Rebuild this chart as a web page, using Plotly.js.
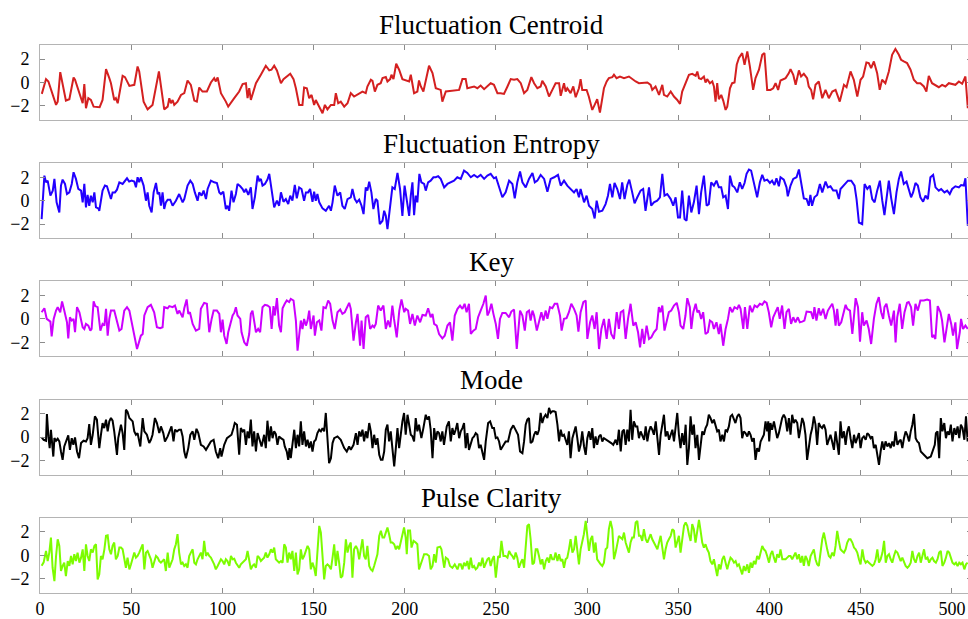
<!DOCTYPE html>
<html>
<head>
<meta charset="utf-8">
<script src="https://cdn.plot.ly/plotly-3.0.1.min.js"></script>
<style>
html,body{margin:0;padding:0;overflow:hidden;background:#fff;}
#chart{width:972px;height:619px;}
</style>
</head>
<body>
<div id="chart"></div>
<script>
// Panel titles
const panelTitles = ["Fluctuation Centroid", "Fluctuation Entropy", "Key", "Mode", "Pulse Clarity"];
const lineColors = ["#d42020", "#2200ff", "#cc00ff", "#000000", "#7cfc00"];
const xTickVals = [0, 50, 100, 150, 200, 250, 300, 350, 400, 450, 500];
const yTickVals = [-2, 0, 2];

// [frame index, value] pairs
const centroid = [[1,-0.97],[3.3,0.29],[4.6,0.09],[8.8,-1.91],[9.7,-1.63],[11.1,0.89],[14.2,-1.54],[16.1,-1.43],[18.4,0.43],[19.2,0.23],[22.5,-1.34],[23.4,-1.77],[24.3,-0.14],[25.2,-2.2],[26.5,-1.34],[27.9,-1.49],[29.4,-2.06],[32.7,-2.11],[34.3,-1.49],[36.2,1.14],[38,0.37],[38.9,-0.06],[40.7,-1.49],[41.6,-1.34],[42.6,-1.77],[45.3,0.57],[46.6,0.46],[49,-0.29],[51.7,-0.2],[53.5,1.37],[54.4,0.94],[56.8,-1.63],[59,-2.29],[61.7,-1.91],[65.2,0.94],[68.1,-2.29],[70,-2.06],[70.9,-1.34],[71.8,-1.77],[72.7,-1.49],[73.6,-1.91],[75.4,-1.63],[77.3,-1.06],[79.1,-0.91],[80.9,0.17],[82.7,-0.2],[84.6,-1.54],[86,-1.63],[87.3,-0.43],[89.1,-0.77],[91.5,-0.77],[93.7,0],[95.5,0.37],[96.4,0.09],[97.4,0.43],[99.2,-0.91],[101.9,-1.63],[103.2,-2.06],[106.5,-1.34],[109.2,-0.77],[111.1,-0.14],[112.9,-0.06],[113.8,-1.34],[114.7,-0.49],[115.6,-1.49],[118.4,-0.06],[121.1,0.66],[123.8,1.43],[125.7,1.03],[126.9,1.09],[128.4,1.43],[129.9,1.03],[132.1,-0.06],[133.5,0.29],[137.2,0.74],[139,0.29],[140.3,-0.49],[142.1,-1.91],[143.9,-1.91],[144.8,-0.43],[146.3,-0.49],[147.6,-1.34],[148.9,-1.06],[150.3,-1.91],[151.2,-1.49],[153.1,-2.06],[154.9,-2.63],[156.2,-1.91],[157.6,-2.29],[159.5,-1.91],[161.3,-1.91],[162.2,-0.91],[163.5,-1.77],[164.9,-1.63],[166.8,-2.06],[168.6,-1.77],[170.4,-0.91],[172.2,-1.2],[175,-0.91],[176.8,-0.77],[178.6,-0.91],[179.5,-0.34],[181.4,0.23],[182.3,0.14],[183.6,-0.77],[185,-0.2],[186.8,-0.06],[187.8,0.37],[189.6,0.46],[190.5,0.09],[192,0.29],[192.7,0.66],[193.8,0.29],[195.3,1.6],[196.9,1.09],[198.7,0.29],[202.4,0.09],[203.3,0.66],[205.1,-0.91],[206.9,-0.77],[207.8,0.17],[208.8,-0.34],[210.2,-0.77],[213.3,1.43],[215.2,0.8],[217,-0.49],[219.7,-0.63],[220.6,-1.63],[222.5,-0.77],[229.8,-0.63],[231.6,0.29],[233.4,0.29],[234.3,-0.49],[238,-0.34],[239.8,-0.49],[241.6,-0.26],[243.5,-0.57],[245.3,-0.34],[247.1,-0.06],[248.9,-0.2],[250.8,-0.91],[252.6,-0.91],[254.4,-0.97],[256.3,-0.34],[258.1,0.29],[259.9,0.23],[261.7,0.29],[263.6,-0.06],[265.4,-0.91],[267.2,-0.63],[269.4,0.46],[270.9,-0.06],[272.7,-0.49],[274.5,-0.34],[275.4,0.14],[277.3,-0.34],[279.1,-1.2],[280.9,-0.63],[282.7,-0.06],[284.6,-0.06],[285.5,-1.14],[287.3,-0.06],[288.2,-0.77],[289.1,-0.49],[290.9,-0.91],[292.4,-0.34],[293.7,-1.26],[295.5,-0.49],[296.4,0.29],[297.3,-0.63],[299.7,-0.63],[300.9,-1.2],[302.8,-2.34],[304.1,-1.91],[305.5,-1.43],[307,-2.57],[309.2,-0.49],[310.7,0.09],[311.9,0.37],[313.8,0.46],[314.7,0.66],[316.1,0.37],[318,0.51],[320.2,0.37],[322.9,0.51],[326.6,0.09],[328.4,-0.06],[333,0],[334.8,-0.2],[335.7,-0.63],[337.5,-0.34],[339.4,-1.06],[341.2,-0.2],[342.1,-1.06],[343.9,-1.2],[345.8,-0.77],[347.6,-1.2],[349.4,-1.49],[350.9,-1.83],[352.1,-0.77],[354,-0.06],[355.8,0.66],[357.6,0.74],[359.5,0.57],[360.4,0.94],[361.3,0.37],[362.5,0.29],[364,0.51],[364.9,0],[365.8,0.29],[367.3,-0.06],[368.6,0.09],[369.5,-0.34],[370.4,-1.63],[371.3,-0.06],[372.2,-1.43],[373.5,-1.06],[374.6,-1.54],[375.9,-2.34],[376.8,-2.06],[378.3,-0.49],[379.5,-0.06],[380.8,0],[382,1.51],[383.2,2.09],[385,2.51],[386.3,1.51],[387.8,2.66],[389.2,1.37],[391,-0.63],[392.3,0.37],[394.2,1.09],[396,2.37],[397.2,2.51],[398.7,-0.63],[400.5,-0.63],[402,-0.49],[403.3,-0.06],[404.7,-0.63],[406,0.17],[408.8,0.37],[410.6,0.8],[411.5,1.14],[413,0.66],[414.3,-0.2],[416.1,1.03],[417.3,0.51],[418.8,0.74],[420.6,0.37],[421.5,-0.34],[422.8,-0.63],[423.9,-1.43],[425.2,-0.2],[427,0.09],[428.9,-1.34],[430.7,-0.63],[432.5,-1.34],[434.4,-0.77],[436.2,-0.63],[438.5,-1.63],[440.8,-0.2],[442.2,-0.4],[444.4,0.94],[446.2,0.23],[448.1,-1.2],[449.9,0.23],[451.3,0.51],[453.1,1.71],[454.4,1.66],[455.7,1.23],[457.2,1.8],[459,0.8],[460.4,-0.63],[461.7,0.23],[463.5,-0.06],[465.4,0.94],[467.2,2.37],[469,2.86],[470.9,2.37],[472.1,1.94],[473.6,1.8],[475.4,1.66],[477.3,1.09],[479.1,0.23],[480.9,-0.06],[482.7,-0.06],[484.6,-0.34],[486,-0.77],[487.3,0.57],[489.1,-0.06],[492.8,-0.4],[494.6,-0.2],[496.4,-0.34],[498.3,-0.06],[501.9,-0.2],[503.8,0.09],[505.6,-0.11],[507.4,0.51],[508.7,-2.2]];

const entropy = [[0.9,-1.57],[2.4,2.14],[3.3,1.57],[4.2,1.71],[5.7,0.43],[7,0.86],[7.9,1.86],[9.1,-0.14],[10.6,-1],[11.5,1.29],[12.4,1.8],[13.7,1.43],[14.8,0.57],[16.1,0.71],[17.4,1.43],[18.4,2.43],[19.7,1.86],[21,1],[22.5,0.86],[23.4,-0.14],[24.3,1.43],[25.2,-0.57],[26.1,0.49],[27,-0.43],[27.9,0.43],[28.9,-0.14],[29.8,0.71],[30.7,-0.57],[32,-0.66],[32.5,-0.86],[34.3,0.86],[35.6,1.29],[36.7,1.23],[38,0.57],[38.9,0.14],[39.8,0.71],[41.1,0.71],[42.2,0.94],[43.5,1.57],[45.3,1.43],[46.6,1.71],[47.7,1.91],[48.9,1.63],[50.2,1.71],[51.7,1.63],[52.6,1.14],[53.5,2],[54.4,1.57],[55.3,2],[56.8,1.29],[58.1,0],[59,0.71],[59.9,-0.43],[61.2,-1],[62.3,0.71],[63.6,1.51],[64.5,0.57],[65.4,0.71],[66.3,-0.43],[67.2,0.71],[68.1,-0.71],[69,-0.14],[70,0.09],[71.4,0.09],[72.7,-0.43],[74.5,0],[76.3,0.57],[78.2,-0.14],[79.1,0.14],[80.9,1.29],[82.4,1.71],[83.7,1.43],[84.9,0.71],[86.4,0],[87.3,0.71],[88.6,0.43],[89.7,0.86],[91,0.14],[91.9,1],[93.7,1.71],[95.5,1.57],[97,1.51],[98.3,0.71],[99.2,0.57],[100.5,0.77],[101.9,-0.71],[102.8,-0.43],[103.7,-0.86],[105,0.86],[106.1,-0.14],[107.4,0.57],[108.3,1.43],[109.8,1.23],[111.1,1],[112,0.71],[112.9,1],[114.2,0.49],[115.6,1.14],[116.5,-0.71],[117.8,0.29],[119.3,2.14],[120.2,1.71],[121.1,1.86],[122,1.29],[123.3,1.43],[124.7,1.8],[125.7,2.29],[126.6,1.34],[127.5,0.49],[128.4,-0.57],[129.9,0],[131.1,-0.43],[132.1,0.71],[133.5,-0.09],[134.8,0.14],[136.1,-0.29],[137.2,0.43],[138.4,0],[139.7,1.34],[140.8,0.2],[142.1,1.14],[143.4,1],[144.8,0],[145.8,0.71],[147,0.71],[148.1,1],[149.4,-0.09],[150.3,0.77],[151.2,0],[152.1,0.57],[153.1,-0.14],[154.9,-0.66],[156.7,-0.86],[158.5,-0.43],[159.5,-0.86],[160.4,-0.14],[161.6,1.29],[163.1,0.43],[164.6,0.71],[165.8,-0.43],[167.1,-0.71],[168.6,0.14],[170.4,0.29],[171.3,1],[172.6,0.14],[173.7,-0.14],[175,0.09],[176.3,-0.43],[177.4,-1.14],[178.6,1.14],[179.5,0.86],[180.5,1.63],[181.7,0.71],[182.8,-0.71],[184.1,0.14],[185,0],[186.3,-2],[187.8,-1.71],[188.7,-0.86],[189.6,-1.29],[190.5,-2.43],[192,-0.43],[193.2,1.14],[194.5,1],[196,2.37],[197.4,1],[198.7,-1.29],[199.9,1.29],[201.1,-0.14],[202.4,-1.29],[203.3,0.43],[204.2,1.57],[205.1,-1.23],[206,0.43],[206.9,-0.14],[208,2.29],[209.1,1.57],[210.6,1.43],[211.5,0.86],[212.8,1.57],[214.2,1.71],[215.7,2],[217,2],[218.3,2.09],[219.7,1.86],[221.6,1.14],[223.4,1.43],[225.2,1.57],[227,1.71],[228.8,2],[230.7,1.86],[232.5,2.57],[234.3,2.37],[236.2,2],[238,2.2],[239.8,2],[241.6,2.2],[243.5,1.86],[245.3,2.14],[247.1,2.29],[248.9,1.91],[250,2],[251.9,1.14],[253.5,0.29],[255.3,0.71],[257.2,1.71],[259,1.43],[260.3,0.2],[261.7,1.57],[263.2,2.49],[264.5,1.57],[266.3,1.14],[268.1,1.86],[270,2.37],[271.3,1.57],[272.7,1.71],[274.5,2.2],[276.4,1.86],[278.2,0.77],[280,1.86],[281.9,2],[284,2.2],[285.5,1.29],[287.3,1.71],[289.1,1.29],[290.9,1],[292.8,0.71],[294.2,1],[295.5,0.29],[296.4,1],[298.3,-0.14],[299.7,0.43],[301,-0.43],[302.8,-0.71],[304.1,-1.51],[305.2,0],[306.5,-0.94],[308.3,-0.86],[310.1,-0.29],[311.4,0.43],[312.5,1.43],[313.8,0.29],[315,1.51],[316.5,1],[318,0.14],[319.2,1.57],[320.5,0.14],[322,1.34],[323.1,1.8],[324.7,0.71],[326,-0.23],[327.5,0.29],[329.3,0.86],[330.7,1],[332,-0.86],[333.9,1.14],[335.1,-0.43],[336.6,-0.14],[338.4,0],[339.9,0.29],[341.2,2.29],[342.4,0.43],[343.9,0.57],[345.8,0.14],[347.2,-0.43],[348.5,0.29],[349.8,-1.43],[350.9,-1.43],[352.1,0.86],[353.4,-1.57],[354.5,-1.71],[355.8,0.43],[357.1,-1],[358.5,-0.14],[360,1.29],[361.3,-1.14],[362.5,0.71],[364,2.14],[365.5,-0.43],[366.7,-0.29],[368,1.57],[369.5,1.29],[370.9,1.71],[372.2,1.14],[373.5,1.14],[374.6,0.29],[375.9,0.43],[377.2,-0.71],[378.3,2.14],[379.6,1.29],[380.8,1.14],[382.3,0.71],[383.7,1.57],[385,1],[386.3,1.51],[387.4,2.29],[388.7,2.66],[389.9,2.57],[391,1.71],[392.3,1],[393.2,0.29],[394.7,1.57],[396,2.2],[397.2,1.71],[398.7,1.8],[400.2,1.51],[401.4,1.71],[402.7,1.34],[403.8,1.91],[405.1,1.23],[406,2],[407.8,1.8],[409.3,1.14],[410,0.37],[411.5,1.29],[413,1.86],[414.8,2],[416.1,2.66],[417.4,1.57],[418.8,0.2],[420.3,0.14],[421.5,-0.43],[422.4,0.49],[423.3,-0.43],[424.6,0.29],[426.1,0.49],[427.6,1.43],[428.9,0.71],[430.7,1.63],[432,1.14],[433.4,1.23],[434.9,0.86],[436.7,0.86],[438,0.14],[438.9,1],[440.8,1.29],[443,1.71],[444.8,1.71],[446.6,1.29],[447.7,0.14],[449,-1.86],[450.8,-2],[452.1,1.43],[453.6,1],[455,1.29],[456.3,0.14],[457.6,-0.14],[459,0.86],[460.5,1.71],[461.8,0],[463,-1.23],[464.1,0.14],[465.4,1.71],[466.7,0.2],[468.2,-1.14],[469.6,0.71],[470.9,1.86],[472.1,2.49],[473.6,1.43],[475.1,1.63],[476.4,1],[477.6,0.29],[478.7,0.71],[480,1.51],[481.3,1.29],[482.7,0.29],[484.2,-0.09],[485.5,0.43],[486.8,0.14],[488.2,2],[489.7,2.2],[491,1.14],[492.8,0.86],[494.1,1],[495.9,0.71],[497.4,0.86],[498.8,0.57],[500.1,1],[501.9,1.23],[503.8,1.14],[505,1.34],[506.5,1.29],[507.4,1.91],[508.7,-2.14]];

const key = [[0.9,0.57],[2.4,0.91],[3.7,0],[4.6,-0.14],[5.7,-0.23],[6.4,-1.49],[7.5,0],[8.8,0.71],[9.7,1],[11.1,0.57],[12.1,1.49],[13.3,0.71],[14.8,-0.29],[15.5,-1.66],[16.4,0.14],[17.4,-0.14],[18.4,0],[19.2,-1.14],[20.3,1],[21.6,0.57],[22.5,0],[23.4,-0.71],[24.3,-0.86],[25.2,-0.43],[26.5,-0.57],[27.6,-1],[28.3,-0.86],[29.4,1.49],[30.3,1.09],[31.6,1],[33.1,-1],[34.3,-0.43],[35.3,-0.57],[36.2,0.86],[37.1,-1.43],[38,0],[38.9,0.71],[40.7,0.71],[43.5,-1],[44.7,-0.86],[46.2,0.71],[47.7,1],[49,0.71],[50.8,-0.57],[53.2,-2.57],[55.3,-1.43],[56.3,-1.29],[57.2,0.29],[59,1],[60.8,1.2],[62.6,0.57],[64.1,-0.71],[65.9,-0.8],[67.2,-0.71],[68.1,1],[70,0.91],[70.9,1.09],[72.7,1],[74,1.14],[75.4,0.43],[76.3,0.71],[78.2,0.14],[79.1,0.91],[80.4,1.66],[81.3,0.43],[82.2,0.57],[83.7,-0.43],[85.5,-1],[87.3,-0.86],[88.2,0.86],[90,1.37],[91.5,1.29],[92.8,-1.14],[94.1,0],[95.2,0.71],[97,0.71],[98.3,0.43],[99.2,-1.14],[100.1,-0.06],[101,-1.43],[102.3,-2.14],[103.2,-1.14],[104.3,-0.57],[105.6,0.29],[106.5,0.51],[107.4,1],[108.3,0.29],[109.8,0],[110.5,-1.14],[112,-2],[113.4,-2.29],[114.7,-1.29],[115.6,0.43],[116.5,0.71],[118.4,-1.14],[119.6,-0.86],[120.7,-1.14],[122,1],[123.3,1.2],[124.7,1.14],[126,1],[127,-0.86],[128,1.09],[128.8,0.29],[129.9,1.77],[131.1,-0.57],[132.1,-1.14],[133,0.91],[134.2,1.29],[135.3,1.57],[136.6,1.43],[137.5,1.71],[139,1.57],[140.3,-0.14],[141.2,-2.71],[142.1,-1.14],[143,-0.14],[143.9,-0.86],[144.8,0],[145.8,-0.57],[146.7,-0.14],[147.6,0.71],[148.5,-0.86],[150,0.29],[150.7,-1.43],[151.8,-0.29],[153.1,-0.14],[154.3,-1],[155.4,1],[156.7,0.91],[158,1.57],[159.1,1.29],[160.4,-0.14],[161.6,-0.86],[163.1,0.57],[164.6,0.8],[165.8,0.43],[167.1,0.57],[168.6,1],[169.5,1.37],[170.4,0.86],[171.9,-1.86],[173.2,-0.29],[174.1,0.43],[175.5,-2.29],[176.3,-0.14],[177.4,-2.57],[178.6,0.14],[179.9,0.34],[181,-0.86],[182.3,-0.57],[183.2,-0.71],[184.1,-0.43],[185.4,1.14],[186.8,0.71],[188.3,1.14],[189.6,-0.86],[190.8,-0.14],[192,-0.71],[193.2,1.14],[194.1,0],[195.6,-1.57],[197,0.71],[198.2,1.66],[199.7,0.57],[200.5,0.86],[201.8,0.71],[202.9,-0.43],[204.2,0.43],[205.5,-0.57],[206.9,0.29],[208.4,-0.29],[209.7,0.34],[211.5,0.29],[212.8,0.91],[214.2,0.14],[215.2,0.43],[216.1,-0.43],[217.5,-0.57],[218.8,-1.29],[220.6,-1.66],[221.9,-1.43],[223.4,-0.57],[224.8,-0.29],[226.1,-1.86],[227.4,0.29],[228.9,0.86],[230.3,1.14],[231.6,0.86],[232.8,1.29],[233.9,0.57],[235.2,1.29],[236.2,-1.29],[237.6,-1],[238.9,-0.86],[240.2,0.14],[241.6,0.71],[243.1,1.29],[244.4,2],[245.3,0.29],[246.2,0.57],[247.5,1.29],[248.6,0.43],[249.9,-0.43],[251.1,-1.71],[252.2,0],[253.5,0.51],[255.3,0.51],[257.2,0.14],[258.4,0.63],[259.9,0.8],[261.4,-2.57],[263.2,0.71],[264.5,0.29],[265.8,-1],[266.9,0.57],[268.1,0.71],[269,-0.14],[270,0.71],[270.9,0.29],[272.4,-1],[273.6,-0.29],[274.9,0.57],[276,-0.14],[277.3,0.71],[278.2,0],[279.6,1],[280.9,0.91],[282.2,1.29],[283.6,1.29],[285.1,0.29],[286,-1],[287.3,0],[288.7,0.06],[290,0.57],[291.3,1.29],[292.8,0.86],[294.2,0.29],[295.2,-1.09],[296.4,0.57],[297.9,1.43],[299.2,1.57],[300.1,-1.71],[301.6,-0.29],[302.8,0.29],[304.1,-0.86],[305.2,0.57],[306.5,-2.57],[307.8,-0.86],[309.2,0],[310.7,-1.71],[311.9,0],[313.2,-1.29],[314.7,-1.71],[316.2,0.57],[317.4,-0.86],[318.4,0.57],[319.8,0.71],[321.1,-1.71],[322.4,0],[323.8,1.29],[325.3,-0.57],[326.6,-0.29],[327.9,-1.14],[329,-2.43],[330.2,-0.86],[331.2,-2.14],[332.6,-0.57],[333.9,-1.71],[335.2,-1.57],[336.6,-1.14],[338.1,-0.86],[339.3,1],[340.2,0.57],[341.2,1.14],[342.4,-1],[343.5,-0.29],[344.8,0.57],[346.1,0.71],[347.6,1.14],[349.1,1.37],[350.3,0.57],[351.2,-0.57],[352.7,-0.86],[353.9,0.29],[354.9,1.77],[356.3,1],[357.1,-0.86],[358.2,0.57],[359.5,1.29],[360.4,0.57],[361.3,0.71],[362.5,0],[363.6,0.57],[364.9,-1.29],[366.2,-1.14],[367.3,-0.14],[368.6,-0.29],[369.5,-0.86],[370.9,-0.29],[372.2,-1.29],[373.1,-0.43],[374.6,-2.29],[375.9,-0.86],[377.2,0],[378.3,1],[379.6,0.57],[380.8,1],[382.3,0.86],[383.2,1.2],[384.1,0.86],[385.6,-0.86],[386.5,1],[387.8,-0.86],[389.2,1.14],[390.5,0.57],[391.8,1.14],[393.2,1],[394.7,1.29],[396,1.2],[397.2,1.49],[398.4,1.37],[399.6,0.57],[400.9,-0.71],[402,0.14],[403.3,0.57],[404.5,1],[405.6,0],[406.9,1.14],[408.2,-0.86],[409.3,0.57],[410.6,0.86],[411.8,-0.43],[413,0.14],[414.2,-0.29],[415.5,0.14],[416.6,-0.29],[417.9,-0.23],[419.1,-0.14],[420.3,0.63],[421.5,0.63],[422.8,0.57],[423.9,0],[424.6,1],[425.7,-0.14],[427,0.91],[428,0.29],[429.4,0.86],[430.7,0],[432,0.71],[433.1,1],[434.4,1.29],[435.3,0.71],[436.2,-0.57],[437.1,0.86],[438,-0.57],[439.3,-0.29],[440.4,0.29],[441.7,1.2],[442.6,0.86],[444.1,0.71],[445.4,-1.29],[446.3,0.29],[447.2,1.77],[448.5,1],[449.6,-1.94],[450.8,0.57],[451.7,-0.57],[453.2,-0.14],[454.4,-0.86],[455.7,-2.14],[457.2,0],[458.6,1.29],[459.9,1.86],[461.2,0.57],[462.3,0],[463,1],[464.1,1.29],[465.4,0.29],[466.7,-0.57],[468.2,0.71],[469.1,-2],[470,0.14],[471.4,1.29],[472.7,-0.86],[474,0.57],[475.4,1.37],[476.3,1.43],[477.6,1],[478.7,-0.57],[480,1.29],[481.3,0.71],[482.7,1.57],[484.6,1.57],[486.4,1.66],[487.9,1.57],[489.1,-1.57],[490,-1.43],[490.9,-1.71],[492.2,1.09],[493.7,0.57],[494.6,-0.14],[495.9,-2],[497.4,-0.43],[498.3,0.43],[499.6,-0.43],[500.6,-1.43],[501.9,-0.29],[502.8,-2.57],[504.3,-1.14],[505,0],[506.1,-0.86],[507.4,-0.57],[508.7,-0.86]];

const mode = [[0.9,-0.03],[2,-0.23],[3.3,-0.31],[3.8,1.97],[4.6,0.06],[5.3,-0.94],[6,0.63],[6.6,-0.37],[7.3,-1.66],[7.9,-0.09],[8.8,-0.31],[9.7,-0.14],[10.6,-0.37],[11.5,-1.23],[12.4,-1.94],[13.3,-0.8],[14.2,-0.37],[15.5,0.14],[16.4,-1.09],[17.4,-0.09],[18.3,-0.66],[19.2,-0.03],[20.3,-1.23],[21.4,-1.8],[22.5,-0.51],[23.9,-0.31],[25.2,-0.37],[26.1,-0.09],[27,1.11],[27.9,-0.66],[28.9,0.2],[30.1,1.77],[31.2,1.49],[32.5,-0.94],[33.4,0.2],[34.3,1.2],[35.2,0.77],[36.2,1.49],[37.1,0.49],[38,1.34],[38.9,1.63],[39.8,1.4],[40.7,0.49],[42.2,-1.51],[42.9,-0.09],[43.7,0.63],[44.4,1.06],[45.3,0.34],[46.2,-1.09],[47.1,2.34],[48,2.14],[49,1.63],[49.9,1.49],[50.8,1.34],[51.7,0.49],[52.6,0.2],[53.5,0.34],[55,-0.8],[56.3,1.63],[57.2,0.49],[58.6,0.2],[59.9,-0.51],[60.8,-0.23],[61.7,0.2],[63,1.63],[64.1,1.2],[65.4,0.34],[66.3,0.91],[67.6,0.34],[68.5,-0.37],[70,0.06],[71.2,0.63],[72.1,0.91],[73.2,-0.37],[74,0.63],[75.1,0.49],[76.3,0.63],[77.3,0.63],[78.2,0.06],[79.1,-1.23],[80,-1.8],[81.3,-0.94],[82.4,0.2],[83.7,0.49],[84.6,-0.23],[85.8,0.71],[86.8,0.34],[88.2,-0.66],[89.7,-0.8],[91,-1.09],[92.2,-0.8],[93.7,-0.37],[95.2,-0.23],[96.4,-1.23],[97.7,-1.8],[98.8,-0.94],[99.5,-1.66],[101,-0.66],[102.5,-0.09],[103.7,0.06],[105,0.2],[106.1,0.77],[106.8,1.2],[108,1.06],[108.7,-0.51],[109.2,-1.51],[110.1,0.77],[111.1,0.49],[112,0.63],[112.9,-0.66],[113.8,0.49],[114.7,-0.09],[115.6,1.49],[116.5,-0.8],[117.4,0.49],[118.4,-1.23],[119.3,0.34],[120.2,-0.23],[121.5,-0.8],[122.9,0.2],[123.8,-0.94],[124.7,1.4],[125.7,-0.37],[126.6,0.91],[127.5,-0.09],[128.4,0.49],[129.3,0.26],[130.2,-0.66],[131.1,0.06],[132.1,-0.09],[133.5,-0.23],[134.2,-0.8],[135.3,-1.23],[136.1,-1.94],[136.8,-0.94],[137.5,-1.8],[138.4,-0.66],[139.4,0.63],[140.3,-0.94],[141.2,0.2],[142.1,-0.8],[143,1.34],[143.9,-0.66],[144.8,0.49],[145.8,-0.8],[146.7,-0.23],[147.6,-0.94],[148.5,-0.37],[149.4,-1.23],[150.3,-0.37],[151.2,-0.23],[152.1,0.34],[153.1,0.63],[154,0.49],[154.9,0.77],[155.8,0.49],[156.7,2.06],[157.6,0.2],[158.5,-2.23],[159.5,-1.8],[160.4,-0.51],[161.3,-0.09],[163.1,0.06],[164.9,-0.23],[166.8,-0.94],[168.2,-1.23],[169.5,-0.8],[170.4,-1.09],[171.9,-0.66],[173.2,0.34],[174.1,-0.66],[175,0.49],[175.9,0.06],[176.8,0.63],[177.7,-0.37],[178.6,0.49],[179.5,-0.09],[180.5,1.2],[181.4,0.49],[182.3,-0.94],[183.2,0.2],[184.1,-0.66],[185,-0.09],[186,-1.51],[186.9,-1.94],[187.8,-1.94],[188.7,-1.23],[189.6,0.63],[190.5,1.06],[191.4,-0.37],[192.3,0.49],[193.2,-0.94],[194.2,-2.51],[195.1,-0.94],[196,0.77],[196.9,-0.94],[197.8,0.34],[198.7,1.34],[199.6,2.06],[200.5,0.2],[201.5,1.91],[202.4,1.06],[203.3,0.2],[204.2,0.06],[205.1,-0.37],[206,1.63],[206.9,0.49],[207.8,1.06],[209.1,-0.09],[210.2,0.77],[211.5,1.91],[212.4,1.49],[213.3,1.77],[214.2,0.63],[215.2,-1.8],[216.1,0.77],[217,-0.23],[217.9,0.49],[218.8,0.34],[219.7,-0.37],[220.6,0.49],[221.5,-0.66],[223,0.91],[224.2,1.34],[225.2,-0.37],[226.1,0.77],[227,0.2],[227.9,0.63],[228.8,1.2],[229.8,-0.09],[230.7,0.49],[231.6,0.77],[232.5,1.2],[233.4,-0.94],[234.3,0.34],[235.2,-1.09],[236.2,-0.66],[237.1,-0.09],[238,0.06],[238.9,0.34],[239.8,0.2],[240.7,-0.94],[241.6,-0.66],[242.6,-1.23],[243.5,-1.94],[244.4,-0.37],[245.7,1.2],[246.8,1.34],[248,0.77],[248.9,0.77],[249.9,-0.09],[250.8,-0.03],[251.7,-0.37],[252.6,-1.09],[254.1,-0.66],[255.3,-0.37],[256.6,-0.37],[258.1,0.63],[259.5,1],[260.8,0.63],[262.1,0.2],[263.2,-1.23],[264.5,-1.37],[265.4,-0.37],[266.3,1.06],[267.2,1.49],[268.1,1.63],[269,-0.51],[270,-0.37],[270.9,0.2],[271.8,0.49],[272.7,0.2],[273.6,0.63],[274.5,2.06],[275.4,1.2],[276.3,1.69],[277.2,1.91],[278.2,1.63],[279.1,2.49],[280,2.06],[280.9,2.2],[281.8,2.2],[282.7,2.14],[283.7,1.06],[284.6,-0.37],[285.5,0.63],[286.4,0.06],[287.3,0.2],[288.2,-0.23],[289.1,-0.66],[290,0.49],[290.9,-1.8],[291.9,-0.09],[292.8,0.49],[293.7,0.91],[294.6,-0.09],[295.5,-1.23],[296.4,-0.66],[297.3,0.49],[298.3,-0.8],[299.2,-1.51],[300.1,-0.09],[301,0.49],[301.9,-0.23],[302.8,0.77],[303.7,-0.94],[304.6,0.06],[305.5,-0.66],[306.5,0.06],[307.4,0.2],[308.3,-0.37],[309.2,-0.09],[310.7,-0.23],[311.9,-0.37],[313.2,-0.51],[314.3,-0.66],[315.6,-0.23],[316.5,-0.66],[317.4,0.63],[318.4,-1.23],[319.3,0.49],[320.2,0.63],[321.1,-0.66],[322,0.63],[322.9,-0.37],[323.8,2.34],[324.7,-0.23],[325.6,1.34],[326.6,0.91],[327.5,0.91],[328.4,-0.09],[329.3,0.49],[330.2,0.2],[331.2,-0.23],[332.1,0.91],[333,-0.37],[333.9,0.49],[334.8,0.91],[335.7,0.63],[336.6,0.2],[337.6,1.34],[338.5,-0.37],[339.4,-1.51],[340.3,0.2],[341.2,1.2],[342.1,1.91],[343,0.06],[344,0.49],[344.9,-0.23],[345.8,0.2],[346.7,0.63],[347.6,-0.37],[348.5,1.2],[349.4,2.06],[350.3,0.2],[351.2,-0.94],[352.1,0.34],[353.1,-0.66],[354,1.06],[354.9,-2.37],[355.8,-0.94],[356.7,1.77],[357.6,0.2],[358.5,1.06],[359.4,-0.94],[360.4,0.2],[361.3,-1.94],[362.2,-0.94],[363.1,0.49],[364,0.2],[364.9,0.77],[365.8,1.06],[366.7,1.91],[367.6,1.63],[368.6,1.2],[369.5,1.49],[370.4,1.06],[371.3,0.49],[372.2,0.63],[373.1,-0.37],[374.1,0.2],[375,-0.37],[375.9,0.63],[376.8,0.49],[377.7,0.91],[378.6,1.77],[379.5,1.91],[380.4,1.49],[381.3,1.2],[382.3,1.77],[383.2,1.97],[384.1,1.63],[385,-0.09],[385.9,0.49],[386.8,0.34],[387.8,0.06],[388.7,0.49],[389.6,0.2],[390.5,-0.37],[391.4,-0.09],[392.3,-1.94],[393.2,-0.94],[394.2,-1.23],[395.1,-0.37],[396,-0.09],[396.9,0.2],[397.8,1.34],[398.7,0.49],[399.3,1.34],[399.8,-0.37],[400.5,1.2],[401.4,0.63],[402.4,1.34],[403.3,0.49],[404.2,-0.09],[405.1,0.34],[406,0.91],[406.9,1.63],[407.8,1.91],[408.7,1.63],[409.7,0.49],[410.6,1.63],[411.5,0.2],[412.4,1.91],[413.3,1.2],[414.2,1.49],[415.2,1.2],[416.1,-0.09],[417,0.77],[417.9,1.63],[418.8,1.2],[419.7,0.2],[420.6,-1.94],[421.5,-0.66],[422.5,0.2],[423.4,0.77],[424.3,1.77],[425.2,1.06],[426.1,-0.66],[427,1.2],[427.9,0.91],[428.8,0.77],[429.8,1.06],[430.7,0.63],[431.6,-0.66],[432.5,-0.23],[433.4,0.2],[434.3,-0.37],[435.3,-1.09],[436.2,0.49],[437.1,-0.37],[438,-1.51],[438.9,1.34],[439.8,-0.09],[440.8,0.49],[441.7,-0.66],[442.6,0.49],[443.5,0.91],[444.4,-0.09],[445.4,-0.94],[446.3,0.2],[447.2,-0.51],[448.1,-0.09],[449,0.34],[449.9,-0.94],[450.8,-0.09],[451.7,0.06],[452.7,-0.23],[453.6,0.34],[454.5,0.2],[455.4,-0.09],[456.3,0.06],[457.2,-0.94],[458.2,-0.66],[459.1,-1.51],[460,-2.37],[460.9,-1.23],[461.8,-0.37],[462.7,-1.09],[463.6,-0.37],[464.6,-0.8],[465.5,-0.51],[466.4,-0.94],[467.3,-0.37],[468.2,-0.8],[469.1,0.49],[470.1,-0.66],[471,-0.37],[471.9,-0.23],[472.8,-0.94],[473.7,-0.09],[474.6,0.49],[475.5,0.2],[476.5,-0.37],[477.4,0.49],[478.3,1.06],[479.2,1.97],[480.1,-0.09],[481,-0.37],[481.9,-0.51],[482.9,-1.23],[484.7,-1.51],[486.5,-1.8],[488.4,-1.66],[489.8,-0.94],[490.6,-0.66],[491.2,0.34],[492.1,0.49],[493,-1.8],[493.9,1.63],[494.8,0.49],[495.8,1.2],[496.7,-0.09],[497.6,0.49],[498.5,0.2],[499.4,1.06],[500.3,-0.37],[501.3,0.77],[502.2,0.2],[503.1,0.91],[504,-0.09],[504.9,1.06],[505.8,0.77],[506.8,-0.23],[507.7,1.77],[508.6,-0.37]];

const pulse = [[0.9,-0.89],[2,-0.6],[3.3,0.37],[4.2,-0.49],[5.1,0.23],[6,1.51],[6.9,-1.06],[7.9,-2.2],[8.8,-0.06],[9.7,1.37],[10.6,0.8],[11.5,-1.34],[12.4,-0.91],[13.3,-0.63],[14.2,-1.77],[15.2,-0.49],[16.1,-0.91],[17,-0.06],[17.9,-0.77],[18.8,0.09],[19.7,-0.49],[20.6,0.23],[21.6,-0.63],[22.5,-0.2],[23.4,0.51],[24.3,-1.34],[25.2,0.94],[26.1,-0.06],[27,-0.49],[27.9,0.51],[28.9,0.23],[29.8,0.8],[30.7,0.94],[31.6,-2.06],[32.5,-1.63],[33.4,-0.06],[34.3,-0.34],[35.3,0.51],[36.2,1.66],[37.1,1.71],[38,0.51],[38.9,0.09],[39.8,0.8],[40.7,1.09],[41.6,-0.34],[42.6,-0.06],[43.5,0.66],[44.4,0.66],[45.3,0.51],[46.2,-0.34],[47.1,-1.06],[48,-0.2],[49,-1.2],[49.9,-0.77],[50.8,-0.34],[51.7,0.23],[52.6,-0.2],[53.5,-0.06],[54.4,0.23],[55.3,0.51],[56.3,0.94],[57.2,-1.2],[58.1,0.23],[59,0.37],[59.9,-0.06],[60.8,-0.34],[61.7,-1.06],[62.6,-0.63],[63.6,-0.06],[64.5,-0.2],[65.4,-0.49],[66.3,-0.63],[67.2,-0.49],[68.1,-0.34],[69,-1.34],[70,0.23],[70.9,-1.06],[71.8,-0.63],[72.7,-0.34],[73.6,0.51],[74.5,0.94],[75.4,1.8],[76.3,0.23],[77.3,-0.77],[78.2,-0.63],[79.1,-0.91],[80,-0.77],[80.9,-1.06],[81.8,-0.06],[82.7,0.23],[83.7,0.51],[84.6,-0.63],[85.5,-0.77],[86.4,-0.34],[87.3,-0.06],[88.2,0.23],[89.1,-0.34],[90,1.23],[91,-0.06],[91.9,0.23],[92.8,-0.06],[93.7,-0.2],[95.5,-0.77],[96.4,-1.2],[97.4,-0.91],[98.3,-0.63],[99.2,-0.34],[100.1,-0.49],[101,-0.77],[101.9,-0.34],[102.8,-0.49],[103.8,-0.91],[104.7,-0.06],[105.6,-0.34],[106.5,-0.29],[107.4,-0.63],[108.3,-0.91],[109.2,-1.06],[110.1,-0.77],[111.1,-0.63],[112,-0.49],[112.9,-0.34],[113.8,0.37],[114.7,-0.63],[115.6,-1.2],[116.5,-0.91],[117.4,-0.77],[118.4,-1.06],[119.3,-0.06],[120.2,-0.2],[121.1,-0.49],[122,-0.34],[122.9,-0.2],[123.8,0.23],[124.7,-0.2],[125.7,0.09],[126.6,0.51],[127.5,0.23],[128.4,0.66],[129.3,-0.34],[130.2,-0.49],[131.1,-0.63],[132.1,-0.49],[133,-0.63],[133.9,0.94],[134.8,0.66],[135.7,-0.63],[136.6,0.23],[137.5,-0.34],[138.4,0.37],[139.4,-1.34],[140.3,0.23],[141.2,-1.63],[142.1,-1.2],[143,0.51],[143.9,-0.34],[144.8,-0.06],[145.8,0.37],[146.7,0.8],[147.6,0.51],[148.5,-1.2],[149.4,-0.63],[150.3,-1.06],[151.2,-1.77],[152.1,0.23],[153.1,2.51],[154,1.94],[154.9,-0.06],[155.8,-2.06],[156.7,-0.91],[157.6,-0.77],[158.5,-0.91],[159.5,-1.2],[160.4,-0.2],[161.3,0.94],[162.2,-0.91],[163.1,0.37],[164,-0.63],[164.9,-1.91],[165.8,-1.77],[166.8,-0.63],[167.7,1.37],[168.6,0.23],[169.5,0.8],[170.4,1.09],[171.3,-1.91],[172.2,0.51],[173.2,0.8],[174.1,0.51],[175,-0.34],[175.9,0.37],[176.8,1.37],[177.7,-0.06],[178.6,-0.34],[179.5,0.8],[180.5,-0.91],[181.4,-1.2],[182.3,-1.34],[183.2,-0.91],[184.1,-0.34],[185,0.09],[186,1.66],[186.9,2.09],[187.8,1.51],[188.7,1.51],[189.6,1.94],[190.5,2.37],[191.4,1.8],[192.3,1.09],[193.2,1.09],[194.2,0.94],[195.1,0.51],[196,0.8],[196.9,0.51],[197.8,1.23],[198.7,1.8],[199.6,2.37],[200.5,1.51],[201.1,0.09],[201.8,2.11],[202.9,2.11],[203.7,0.66],[204.8,1.23],[206,1.09],[206.9,0.94],[207.8,-1.2],[208.8,-0.63],[209.7,-0.34],[210.6,0.09],[212.1,0.09],[213.3,-0.06],[214.2,-1.2],[215.2,-0.91],[216.1,0.09],[217,-0.63],[217.9,0.66],[219.4,0.74],[220.1,0.51],[221.6,-1.06],[222.5,-0.2],[223.7,-0.34],[224.8,-0.91],[226.1,-1.06],[227.4,-0.77],[228.9,-1.2],[229.8,-0.77],[230.7,-0.77],[231.6,-1.2],[232.5,-0.63],[233.4,-0.91],[234.3,-0.49],[235.2,-1.2],[236.2,-0.2],[237.1,-1.06],[238,-0.91],[238.9,-1.2],[239.8,-1.06],[240.7,-0.63],[241.6,-0.91],[242.6,-0.2],[243.5,-1.06],[244.4,-0.63],[245.3,-0.34],[246.2,-0.2],[247.1,-0.91],[248,-0.34],[248.9,-0.06],[249.9,-1.91],[251.2,-0.06],[252.1,-0.2],[253,1.23],[254.1,-0.06],[255.3,-0.06],[256.3,-0.2],[257.2,0.37],[258.1,0.09],[259,-0.06],[259.9,-0.34],[260.8,0.23],[261.7,-0.2],[262.6,-1.06],[263.6,-0.63],[264.5,-0.34],[265.4,-1.06],[266.3,0.51],[267.2,2.51],[268.1,2.66],[269,1.37],[270,-0.77],[270.9,-0.63],[271.8,0.51],[272.7,0.51],[273.6,-0.06],[274.5,-0.77],[275.4,-0.34],[276.4,-1.2],[277.3,-0.49],[278.2,-0.2],[279.1,-0.63],[280,0.09],[280.9,-0.34],[281.8,-0.34],[282.7,0.23],[283.7,-0.49],[284.6,0.09],[285.5,-0.49],[286.4,-0.34],[287.3,-1.06],[288.2,-0.34],[289.1,-0.2],[290,0.51],[290.9,1.37],[291.9,0.23],[292.8,0.51],[293.7,1.66],[294.6,0.66],[295.5,-0.77],[296.4,0.51],[297.3,1.09],[298.2,1.8],[299.2,2.94],[300.1,1.66],[301,0.37],[301.9,1.37],[302.8,1.66],[303.7,0.23],[304.6,1.09],[305.5,-0.34],[306.5,-0.63],[307.4,-0.77],[308.3,-0.91],[309.2,-0.63],[310.1,0.51],[311,0.66],[311.9,2.23],[312.8,2.94],[313.8,2.23],[314.7,-0.34],[315.6,0.23],[316.5,1.09],[317.4,1.66],[318.3,1.51],[319.3,1.37],[320.2,1.94],[321.1,1.09],[322,0.66],[322.9,0.23],[323.8,1.09],[324.7,1.51],[325.6,1.51],[326.6,2.8],[327.5,2.94],[328.4,1.66],[329.3,1.66],[330.2,1.23],[331.1,2.23],[332.1,1.37],[333,1.09],[333.9,1.51],[334.8,1.8],[335.7,1.37],[336.6,1.09],[337.5,0.8],[338.5,0.51],[339.4,1.09],[340.3,1.66],[341.2,0.66],[342.1,-0.34],[343,0.51],[343.9,1.09],[344.8,1.37],[345.8,1.66],[346.7,2.23],[347.6,2.09],[348.5,0.66],[349.4,1.09],[350.3,1.66],[351.2,0.23],[352.1,1.37],[353.1,2.51],[354,2.8],[354.9,2.51],[355.8,1.8],[356.7,1.23],[357.6,2.66],[358.5,2.23],[359.4,1.09],[360.4,2.37],[361.3,3.03],[362.2,2.09],[363.1,1.09],[364,0.66],[364.9,0.94],[365.8,0.51],[366.7,0.23],[367.6,-0.49],[368.6,-0.77],[369.5,-0.34],[370.4,-1.06],[371.3,-1.77],[372.2,-0.77],[373.1,-1.2],[374.1,-0.34],[375,-0.06],[375.9,-0.63],[376.8,-1.2],[377.7,-0.63],[378.6,-0.2],[379.5,-0.34],[380.5,-0.63],[381.4,-0.49],[382.3,-0.91],[383.2,-0.77],[384.1,-1.2],[385,-1.63],[385.9,-0.91],[386.8,-1.34],[387.8,-0.77],[388.7,-1.49],[389.6,-0.63],[390.5,-1.06],[391.4,-0.49],[392.3,-0.77],[393.2,-0.06],[394.2,-0.34],[395.1,0.23],[396,0.8],[396.9,0.51],[397.8,0.37],[398.7,-0.06],[399.7,-0.63],[400.6,0.09],[401.5,0.37],[402.4,-0.2],[403.3,-0.63],[404.2,0.09],[405.2,-0.2],[406,0.51],[407,-0.34],[407.9,-0.34],[408.8,-0.34],[409.7,-0.2],[410.6,-0.06],[411.5,-0.06],[412.4,-0.34],[413.3,-0.06],[414.2,0.23],[415.2,-0.34],[416.1,0.09],[417,-0.63],[417.9,-0.06],[418.8,-0.91],[419.7,-0.06],[420.6,-0.34],[421.5,-0.91],[422.5,-0.06],[423.4,0.23],[424.3,0.51],[425.2,-0.34],[426.1,-0.77],[427,-0.91],[427.9,0.23],[428.9,1.37],[429.8,1.94],[430.7,1.09],[431.6,0.51],[432.5,-0.06],[433.4,-0.2],[434.4,0.23],[435.3,-0.06],[436.2,0.8],[437.1,2.09],[438,1.23],[438.9,0.51],[439.8,0.37],[440.8,0.23],[441.7,0.51],[442.6,1.09],[443.5,1.37],[444.4,1.37],[445.4,1.09],[446.3,0.66],[447.2,0.51],[448.1,0.23],[449,-0.34],[449.9,-0.77],[450.9,0.51],[451.8,-0.34],[452.7,-0.63],[453.6,-0.49],[454.5,-0.63],[455.4,-0.77],[456.4,-0.91],[457.3,-0.77],[458.2,-0.34],[459.1,0.51],[460,-0.63],[460.9,-0.34],[461.9,0.23],[462.8,1.23],[463.7,-0.63],[464.6,-0.06],[465.5,0.09],[466.4,-0.34],[467.3,-0.63],[468.2,-0.06],[469.1,0.37],[470.1,0.23],[471,-0.06],[471.9,-0.49],[472.8,-0.2],[473.7,-0.49],[474.6,-0.91],[475.6,-1.06],[476.5,-0.91],[477.4,-0.63],[478.3,0.37],[479.2,-0.34],[480.1,-0.63],[481.1,-0.06],[482,0.23],[482.9,-0.63],[483.8,0.09],[484.7,0.51],[485.6,-0.34],[486.6,-0.2],[487.5,-0.63],[488.4,-0.34],[489.3,-0.2],[490.2,-0.49],[491.2,-0.63],[492.1,-0.34],[493,0.23],[493.9,0.37],[494.8,-0.91],[495.8,-0.63],[496.7,-0.2],[497.6,0.37],[498.5,0.23],[499.4,-0.2],[500.3,-0.63],[501.3,-0.77],[502.2,-0.63],[503.1,-0.91],[504,-0.63],[504.9,-0.77],[505.8,-0.63],[506.8,-1.2],[507.7,-0.77],[508.6,-0.63]];

const seriesList = [centroid, entropy, key, mode, pulse];

// ---- layout ----
const W = 972, H = 619;
const panelTop = [45, 163.2, 281.4, 399.6, 517.8]; // px
const panelH = 75;
const FONT = "Liberation Serif, Times New Roman, serif";

const traces = [];
const layout = {
  width: W, height: H,
  margin: {l: 40, r: 0, t: 0, b: 0},
  paper_bgcolor: "#ffffff", plot_bgcolor: "#ffffff",
  showlegend: false,
  font: {family: FONT, size: 18, color: "#000"},
  annotations: []
};

seriesList.forEach((s, i) => {
  const n = i === 0 ? "" : String(i + 1);
  traces.push({
    type: "scatter", mode: "lines",
    x: s.map(p => p[0]), y: s.map(p => p[1]),
    xaxis: "x" + n, yaxis: "y" + n,
    line: {color: lineColors[i], width: 2},
    hoverinfo: "skip"
  });
  const top = panelTop[i];
  const d0 = (H - top - panelH) / H, d1 = (H - top) / H;
  const common = {
    showline: true, linecolor: "#b4b4b4", linewidth: 1, mirror: "ticks",
    ticks: "inside", ticklen: 5, tickwidth: 1, tickcolor: "#8c8c8c",
    showgrid: false, zeroline: false, fixedrange: true,
    tickfont: {family: FONT, size: 18, color: "#000"}
  };
  layout["xaxis" + n] = Object.assign({}, common, {
    domain: [0, 1], range: [0, 511], anchor: "y" + n,
    tickmode: "array", tickvals: xTickVals,
    showticklabels: i === 4, ticklabelstandoff: 0
  });
  layout["yaxis" + n] = Object.assign({}, common, {
    domain: [d0, d1], range: [-3.2, 3.2], anchor: "x" + n,
    tickmode: "array", tickvals: yTickVals, ticklabelstandoff: 6
  });
  layout.annotations.push({
    xref: "paper", yref: "paper",
    x: (491 - 40) / (W - 40), y: (H - (top - 19.5)) / H,
    xanchor: "center", yanchor: "middle",
    text: panelTitles[i], showarrow: false,
    font: {family: FONT, size: 27, color: "#000"}
  });
});

Plotly.newPlot("chart", traces, layout, {staticPlot: true, displayModeBar: false});
</script>
</body>
</html>
